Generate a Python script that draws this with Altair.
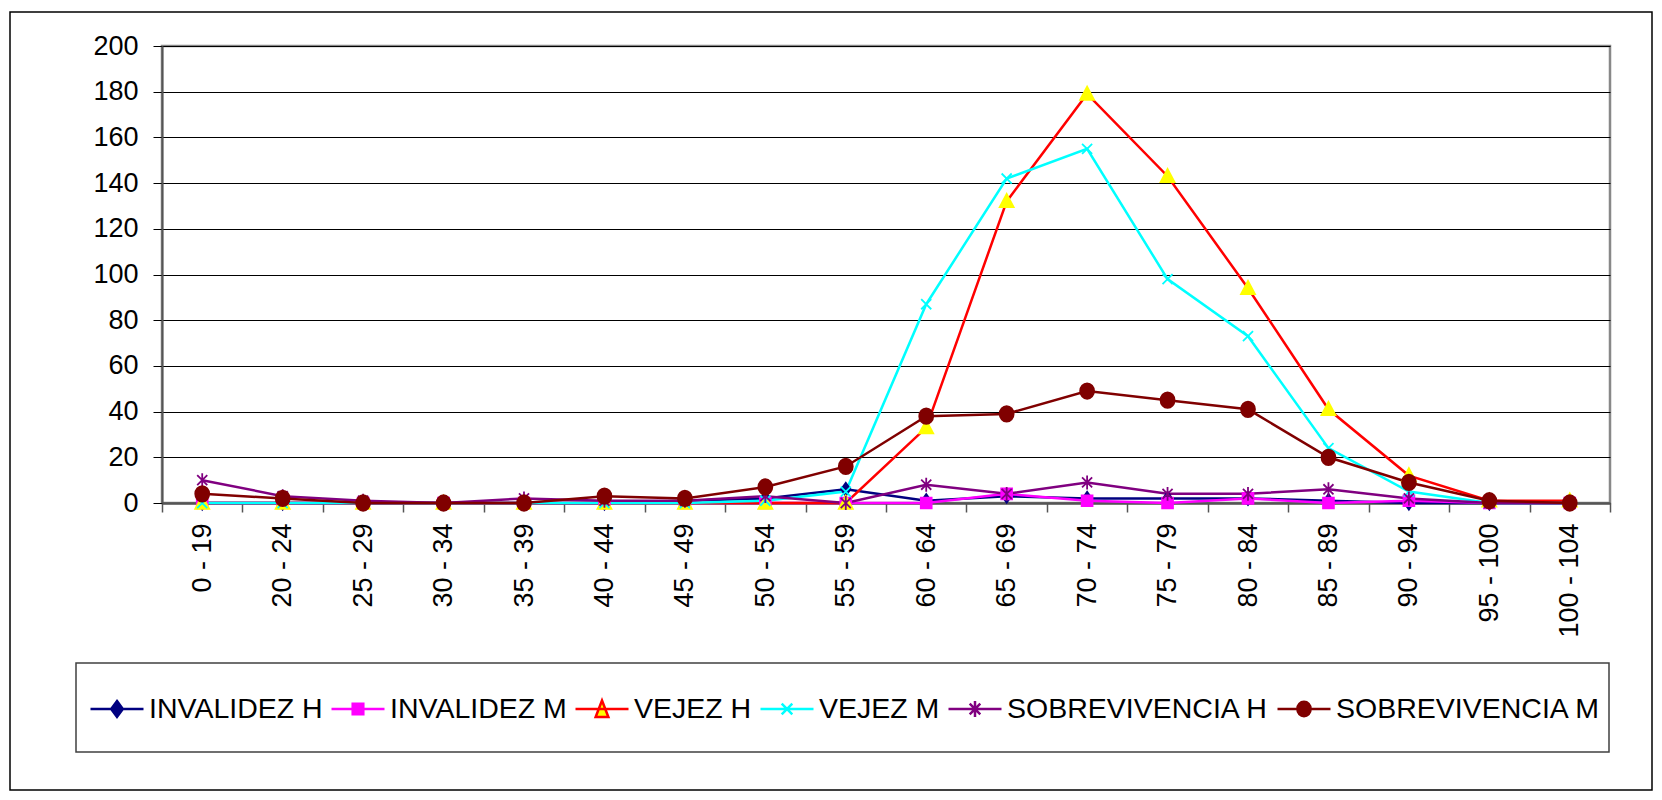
import altair as alt
import pandas as pd

FONT = "Liberation Sans"

categories = ["0 - 19", "20 - 24", "25 - 29", "30 - 34", "35 - 39", "40 - 44",
              "45 - 49", "50 - 54", "55 - 59", "60 - 64", "65 - 69", "70 - 74",
              "75 - 79", "80 - 84", "85 - 89", "90 - 94", "95 - 100", "100 - 104"]

series_names = ["INVALIDEZ H", "INVALIDEZ M", "VEJEZ H", "VEJEZ M",
                "SOBREVIVENCIA H", "SOBREVIVENCIA M"]

invalidez_h = [0, 0, 0, 0, 0, 0, 1, 2, 6, 1, 3, 2, 2, 2, 1, 0, 0, 0]
invalidez_m = [0, 0, 0, 0, 0, 0, 0, 0, 0, 0, 4, 1, 0, 2, 0, 1, 0, 0]
vejez_h = [0, 0, 0, 0, 0, 0, 0, 0, 0, 33, 132, 179, 143, 94, 41, 12, 1, 1]
vejez_m = [0, 0, 0, 0, 0, 0, 0, 1, 5, 87, 142, 155, 98, 73, 24, 5, 0, 0]
sobrevivencia_h = [10, 3, 1, 0, 2, 1, 1, 3, 0, 8, 4, 9, 4, 4, 6, 2, 0, 0]
sobrevivencia_m = [4, 2, 0, 0, 0, 3, 2, 7, 16, 38, 39, 49, 45, 41, 20, 9, 1, 0]

line_colors = ["#000080", "#FF00FF", "#FF0000", "#00FFFF", "#800080", "#800000"]
marker_colors = ["#000080", "#FF00FF", "#FFFF00", "#00FFFF", "#800080", "#800000"]
line_widths = [2.5, 2.5, 2.2, 2.2, 3, 3]

marker_paths = [
    "M0,-0.85L0.6,0L0,0.85L-0.6,0Z",
    "M-0.7,-0.7H0.7V0.7H-0.7Z",
    "M0,-0.95L0.9,0.75H-0.9Z",
    "M-0.65,-0.65L0.65,0.65M-0.65,0.65L0.65,-0.65",
    "M-0.65,-0.65L0.65,0.65M-0.65,0.65L0.65,-0.65M0,-0.9V0.9",
    "M-0.9,0A0.9,1 0 1 0 0.9,0A0.9,1 0 1 0 -0.9,0Z",
]
legend_paths = [
    "M-1,0H1M0,-0.3L0.22,0L0,0.3L-0.22,0Z",
    "M-1,0H1M-0.2,-0.2H0.2V0.2H-0.2Z",
    "M-1,0H1M0,-0.32L0.24,0.3H-0.24Z",
    "M-1,0H1M-0.2,-0.2L0.2,0.2M-0.2,0.2L0.2,-0.2",
    "M-1,0H1M-0.2,-0.2L0.2,0.2M-0.2,0.2L0.2,-0.2M0,-0.3V0.3",
    "M-1,0H1M-0.25,0A0.25,0.27 0 1 0 0.25,0A0.25,0.27 0 1 0 -0.25,0Z",
]

all_series = [invalidez_h, invalidez_m, vejez_h, vejez_m, sobrevivencia_h, sobrevivencia_m]
rows = []
for name, vals in zip(series_names, all_series):
    for c, v in zip(categories, vals):
        rows.append({"grupo": c, "serie": name, "valor": v})
df = pd.DataFrame(rows)

x_enc = alt.X(
    "grupo:N", sort=categories,
    scale=alt.Scale(type="band", paddingInner=0, paddingOuter=0),
    axis=alt.Axis(title=None, labelAngle=270, tickBand="extent", tickSize=9,
                  tickColor="#555555", tickWidth=1.5, domainColor="#555555",
                  domainWidth=2.5, labelFont=FONT, labelFontSize=27,
                  labelColor="black", labelPadding=11, grid=False,
                  labelOverlap=False),
)
y_enc = alt.Y(
    "valor:Q",
    scale=alt.Scale(domain=[0, 200], nice=False),
    axis=alt.Axis(title=None, values=list(range(0, 201, 20)), grid=True,
                  gridColor="black", gridWidth=1, tickColor="black", tickSize=9,
                  tickWidth=1, domainColor="#555555", domainWidth=2,
                  labelFont=FONT, labelFontSize=27, labelColor="black",
                  labelPadding=15),
)

frame_df = pd.DataFrame({"k": [0]})
outer_border = alt.Chart(frame_df).mark_rect(
    fill="transparent", stroke="black", strokeWidth=1.5
).encode(x=alt.value(-152), x2=alt.value(1490), y=alt.value(-34), y2=alt.value(744))

legend_box = alt.Chart(frame_df).mark_rect(
    fill="transparent", stroke="#404040", strokeWidth=1.5
).encode(x=alt.value(-86), x2=alt.value(1447), y=alt.value(617), y2=alt.value(706))

lines = alt.Chart(df).mark_line().encode(
    x=x_enc, y=y_enc,
    stroke=alt.Stroke("serie:N", scale=alt.Scale(domain=series_names, range=line_colors), legend=None),
    strokeWidth=alt.StrokeWidth("serie:N", scale=alt.Scale(domain=series_names, range=line_widths), legend=None),
)

points = alt.Chart(df).mark_point(opacity=1, strokeWidth=1.8).encode(
    x=x_enc, y=y_enc,
    shape=alt.Shape("serie:N", scale=alt.Scale(domain=series_names, range=marker_paths), legend=None),
    fill=alt.Fill("serie:N", scale=alt.Scale(domain=series_names, range=marker_colors), legend=None),
    stroke=alt.Stroke("serie:N", scale=alt.Scale(domain=series_names, range=marker_colors), legend=None),
    size=alt.value(240),
)

leg = alt.Legend(title=None, orient="none", legendX=-73, legendY=635,
                 direction="horizontal", columns=6, symbolSize=2809,
                 symbolStrokeWidth=2.5, symbolOpacity=1, labelFont=FONT,
                 labelFontSize=28.5, labelColor="black", labelOffset=4,
                 columnPadding=3, labelLimit=600, padding=0, gridAlign="none")

legend_layer = alt.Chart(df).mark_point(opacity=0, strokeWidth=2.5).encode(
    x=x_enc, y=y_enc,
    shape=alt.Shape("serie:N", scale=alt.Scale(domain=series_names, range=legend_paths), legend=leg),
    fill=alt.Fill("serie:N", scale=alt.Scale(domain=series_names, range=marker_colors), legend=leg),
    stroke=alt.Stroke("serie:N", scale=alt.Scale(domain=series_names, range=line_colors), legend=leg),
    size=alt.value(10),
)

chart = alt.layer(outer_border, legend_box, lines, points, legend_layer).resolve_scale(
    shape="independent", fill="independent", stroke="independent", strokeWidth="independent"
).properties(
    width=1448, height=457,
    autosize=alt.AutoSizeParams(type="none"),
    padding={"left": 154, "top": 38, "right": 44, "bottom": 289},
    background="white",
).configure_view(stroke="#888888", strokeWidth=2.5)

chart.save("out.html", embed_options={"renderer": "svg", "actions": False})
